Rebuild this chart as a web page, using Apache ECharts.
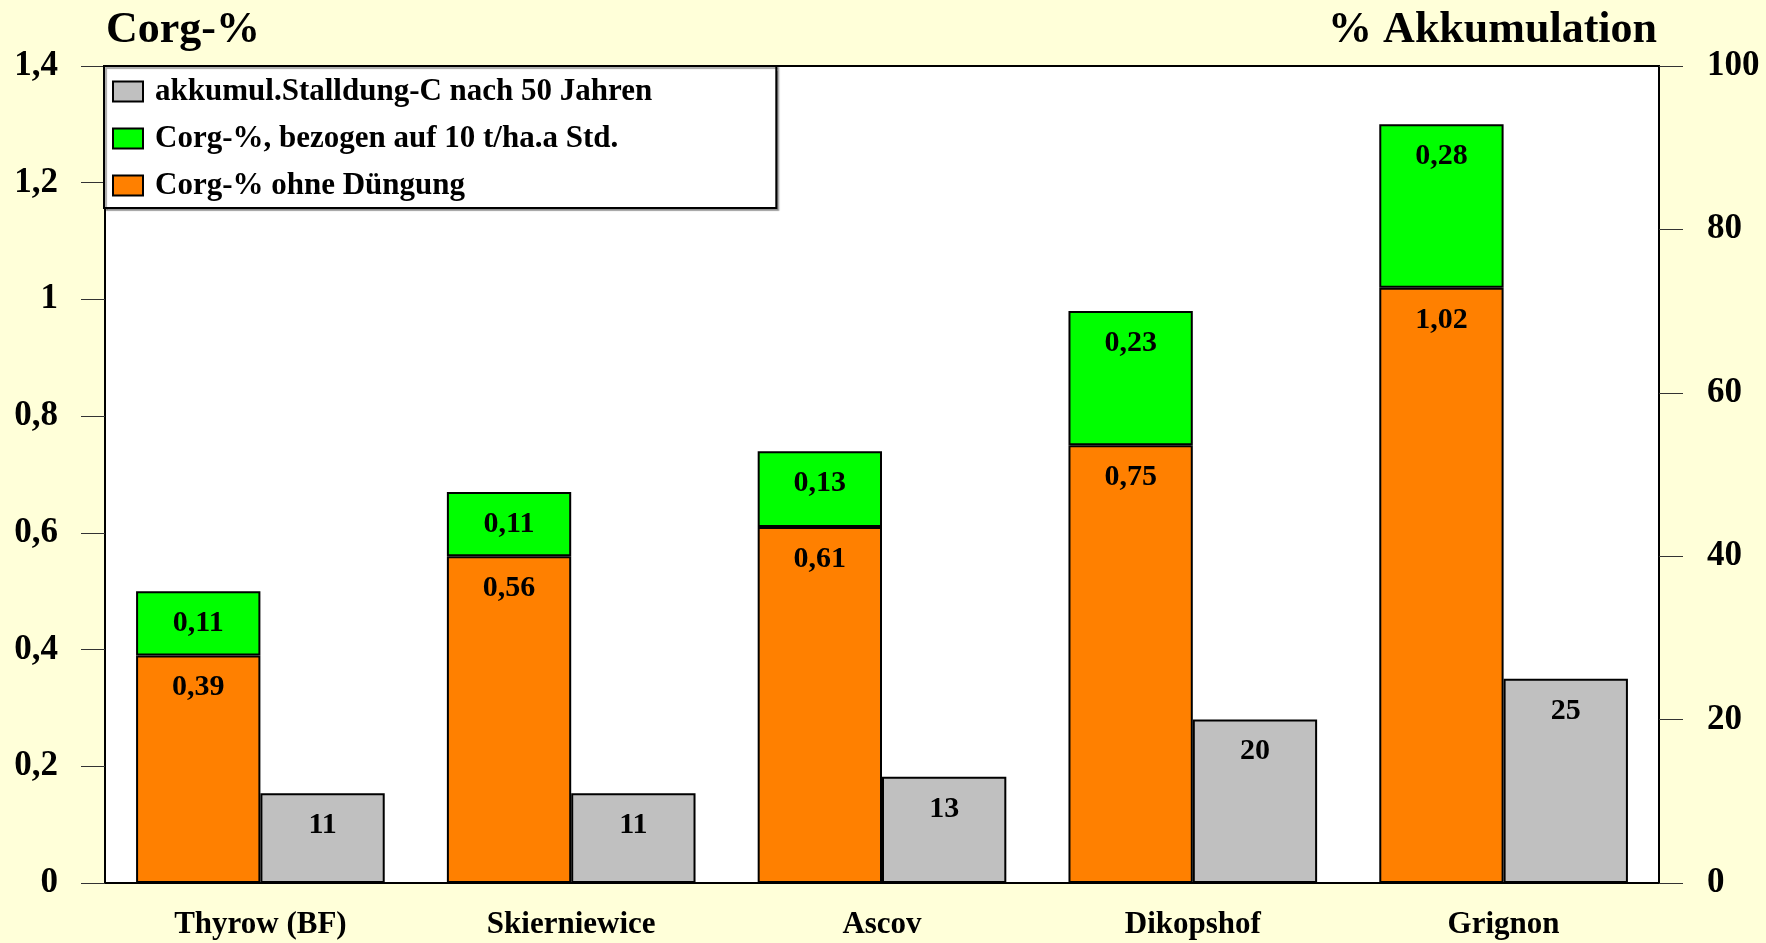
<!DOCTYPE html>
<html>
<head>
<meta charset="utf-8">
<script src="https://cdn.jsdelivr.net/npm/echarts@6/dist/echarts.min.js"></script>
<style>
  html, body { margin: 0; padding: 0; background: #FFFFD9; }
  #chart { width: 1766px; height: 943px; }
</style>
</head>
<body>
<div id="chart"></div>
<script>
// Standorte der Dauerfeldversuche
const categories = ['Thyrow (BF)', 'Skierniewice', 'Ascov', 'Dikopshof', 'Grignon'];
// Corg-% ohne Düngung (untere Stapelteile)
const corgOhne = [0.39, 0.56, 0.61, 0.75, 1.02];
// Corg-%, bezogen auf 10 t/ha.a Stalldung (obere Stapelteile)
const corgStd = [0.11, 0.11, 0.13, 0.23, 0.28];
// akkumulierter Stalldung-C nach 50 Jahren, % (rechte Achse)
const akkumul = [11, 11, 13, 20, 25];

const names = {
  ohne: 'Corg-% ohne Düngung',
  std: 'Corg-%, bezogen auf 10 t/ha.a Std.',
  akk: 'akkumul.Stalldung-C nach 50 Jahren'
};

const FONT = '"Liberation Serif", "Times New Roman", serif';
const comma = v => String(v).replace('.', ',');

const barLabel = {
  show: true,
  position: 'insideTop',
  distance: 17,
  color: '#000',
  fontFamily: FONT,
  fontWeight: 'bold',
  fontSize: 30,
  lineHeight: 30
};

const chart = echarts.init(document.getElementById('chart'));
chart.setOption({
  backgroundColor: '#FFFFD9',
  animation: false,
  title: [
    {
      text: 'Corg-%', left: 106, top: 9, padding: 0,
      textStyle: { fontFamily: FONT, fontWeight: 'bold', fontSize: 44, color: '#000' }
    },
    {
      text: '% Akkumulation', right: 109, top: 9, padding: 0,
      textStyle: { fontFamily: FONT, fontWeight: 'bold', fontSize: 44, color: '#000' }
    }
  ],
  legend: {
    data: [names.akk, names.std, names.ohne],
    orient: 'vertical',
    left: 104,
    top: 66,
    padding: [10, 124, 7, 8],
    icon: 'rect',
    itemWidth: 30,
    itemHeight: 20,
    itemGap: 16,
    backgroundColor: '#fff',
    borderColor: '#000',
    borderWidth: 2,
    shadowColor: 'rgba(0,0,0,0.35)',
    shadowOffsetX: 2,
    shadowOffsetY: 2,
    shadowBlur: 1,
    textStyle: {
      fontFamily: FONT, fontWeight: 'bold', fontSize: 31, lineHeight: 31, color: '#000',
      padding: [0, 0, 0, 7]
    },
    selectedMode: false
  },
  grid: {
    left: 105, right: 107, top: 66, bottom: 60,
    show: true,
    backgroundColor: '#fff',
    borderColor: '#000',
    borderWidth: 2,
    containLabel: false
  },
  xAxis: {
    type: 'category',
    data: categories,
    axisTick: { show: false },
    axisLine: { show: true, lineStyle: { color: '#000', width: 2 } },
    axisLabel: {
      margin: 26,
      color: '#000', fontFamily: FONT, fontWeight: 'bold', fontSize: 31
    }
  },
  yAxis: [
    {
      type: 'value', min: 0, max: 1.4, interval: 0.2,
      position: 'left',
      splitLine: { show: false },
      axisLine: { show: true, lineStyle: { color: '#000', width: 2 } },
      axisTick: { show: true, inside: false, length: 24, lineStyle: { color: '#333', width: 1 } },
      axisLabel: {
        margin: 47, color: '#000', fontFamily: FONT, fontWeight: 'bold', fontSize: 35,
        formatter: v => comma(Math.round(v * 10) / 10)
      }
    },
    {
      type: 'value', min: 0, max: 100, interval: 20,
      position: 'right',
      splitLine: { show: false },
      axisLine: { show: true, lineStyle: { color: '#000', width: 2 } },
      axisTick: { show: true, inside: false, length: 24, lineStyle: { color: '#333', width: 1 } },
      axisLabel: {
        margin: 48, color: '#000', fontFamily: FONT, fontWeight: 'bold', fontSize: 35
      }
    }
  ],
  series: [
    {
      name: names.ohne, type: 'bar', stack: 'corg', yAxisIndex: 0,
      data: corgOhne,
      barCategoryGap: '20%', barGap: '0%',
      itemStyle: { color: '#FF8000', borderColor: '#000', borderWidth: 2 },
      label: Object.assign({}, barLabel, { formatter: p => comma(p.value) })
    },
    {
      name: names.std, type: 'bar', stack: 'corg', yAxisIndex: 0,
      data: corgStd,
      itemStyle: { color: '#00FF00', borderColor: '#000', borderWidth: 2 },
      label: Object.assign({}, barLabel, { formatter: p => comma(p.value) })
    },
    {
      name: names.akk, type: 'bar', yAxisIndex: 1,
      data: akkumul,
      barCategoryGap: '20%', barGap: '0%',
      itemStyle: { color: '#C0C0C0', borderColor: '#000', borderWidth: 2 },
      label: Object.assign({}, barLabel, { formatter: p => String(p.value) })
    }
  ]
});
</script>
</body>
</html>
